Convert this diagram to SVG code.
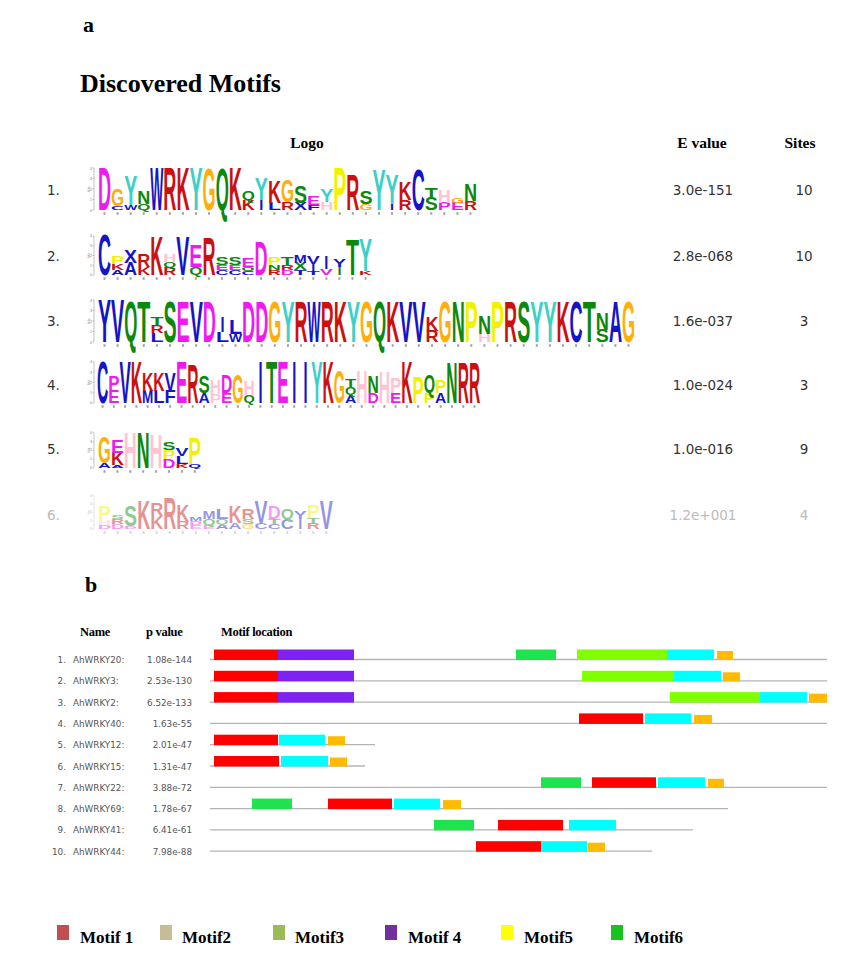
<svg xmlns="http://www.w3.org/2000/svg" xmlns:xlink="http://www.w3.org/1999/xlink" width="851" height="971" viewBox="0 0 851 971">
<style>
.L text{font-family:"Liberation Sans",Arial,sans-serif;font-weight:bold;font-size:14.53px}
.L .i{text-anchor:middle}
.B{fill:#1414c8}.G{fill:#0c880c}.M{fill:#f01af0}.R{fill:#cc1010}.O{fill:#ffaf0a}.Y{fill:#f2f200}.C{fill:#3cd0c8}.P{fill:#ffc4d4}
.hd{font-family:"Liberation Serif","Times New Roman",serif;font-weight:bold;fill:#000}
.ev{font-family:"DejaVu Sans",Verdana,sans-serif;font-size:13.5px;fill:#333}
.tk{font-family:"Liberation Sans",Arial,sans-serif;font-size:3.5px;fill:#777}
.ticks{stroke:#a0a0a0;stroke-width:2.5;fill:none}
.nm{font-family:"DejaVu Sans",Verdana,sans-serif;font-size:8.8px;fill:#555}
.bh{font-family:"Liberation Serif","Times New Roman",serif;font-weight:bold;font-size:12.5px;letter-spacing:-0.3px;fill:#000}
.ln{stroke:#b4b4b4;stroke-width:1.3}
.m1{fill:#ff0000}.m4{fill:#7d22f0}.m6{fill:#1ee34e}.m3{fill:#80ff00}.mc{fill:#00ffff}.mo{fill:#ffbb00}
.lg{font-family:"Liberation Serif","Times New Roman",serif;font-weight:bold;font-size:17px;fill:#000}
</style>
<defs>
<g id="ax">
<path d="M0,-42V0M-1.5,-42H0M-1.5,-31.5H0M-1.5,-21H0M-1.5,-10.5H0M-1.5,0H0" stroke="#999" stroke-width="0.6" fill="none"/>
<text class="tk" x="-2" y="-40.5" text-anchor="end">4</text>
<text class="tk" x="-2" y="-30" text-anchor="end">3</text>
<text class="tk" x="-2" y="-19.5" text-anchor="end">2</text>
<text class="tk" x="-2" y="-9" text-anchor="end">1</text>
<text class="tk" x="-2" y="1.5" text-anchor="end">0</text>
<text class="tk" transform="translate(-4.2,-21) rotate(-90)" text-anchor="middle">bits</text>
</g>
</defs>
<rect width="851" height="971" fill="#fff"/>

<g id="panel-a">
<text class="hd" x="83" y="32" font-size="22">a</text>
<text class="hd" x="80" y="92" font-size="26">Discovered Motifs</text>
<text class="hd" x="307" y="148" font-size="15.5" text-anchor="middle">Logo</text>
<text class="hd" x="702" y="148" font-size="15.5" text-anchor="middle">E value</text>
<text class="hd" x="800" y="148" font-size="15.5" text-anchor="middle">Sites</text>

<g id="labels-a" class="ev">
<text x="47" y="195">1.</text><text x="703" y="195" text-anchor="middle">3.0e-151</text><text x="804" y="195" text-anchor="middle">10</text>
<text x="47" y="261">2.</text><text x="703" y="261" text-anchor="middle">2.8e-068</text><text x="804" y="261" text-anchor="middle">10</text>
<text x="47" y="326">3.</text><text x="703" y="326" text-anchor="middle">1.6e-037</text><text x="804" y="326" text-anchor="middle">3</text>
<text x="47" y="390">4.</text><text x="703" y="390" text-anchor="middle">1.0e-024</text><text x="804" y="390" text-anchor="middle">3</text>
<text x="47" y="454">5.</text><text x="703" y="454" text-anchor="middle">1.0e-016</text><text x="804" y="454" text-anchor="middle">9</text>
<g><text x="47" y="520" style="fill:#bbb">6.</text><text x="703" y="520" text-anchor="middle" style="fill:#bbb">1.2e+001</text><text x="804" y="520" text-anchor="middle" style="fill:#bbb">4</text></g>
</g>

<g id="axes">
<use xlink:href="#ax" href="#ax" transform="translate(94,210)"/>
<use xlink:href="#ax" href="#ax" transform="translate(94,275) scale(1,0.93)"/>
<use xlink:href="#ax" href="#ax" transform="translate(94,342)"/>
<use xlink:href="#ax" href="#ax" transform="translate(94,403) scale(1,0.98)"/>
<use xlink:href="#ax" href="#ax" transform="translate(94,468) scale(1,0.85)"/>
<use xlink:href="#ax" href="#ax" transform="translate(94,529) scale(1,0.8)" opacity="0.45"/>
<path class="ticks" d="M103.5,213.5H477" stroke-dasharray="2 11.07"/>
<path class="ticks" d="M103.5,278.5H372" stroke-dasharray="2 11.05"/>
<path class="ticks" d="M103.5,345.5H635" stroke-dasharray="2 11.1"/>
<path class="ticks" d="M101.6,406.5H480" stroke-dasharray="2 9.27"/>
<path class="ticks" d="M103.5,471.5H201" stroke-dasharray="2 10.9"/>
<path class="ticks" d="M103.5,532.5H333" stroke-dasharray="2 11.05" opacity="0.45"/>
</g>

<g id="logo1" class="L" transform="translate(98,210)">
<text transform="translate(0,0)scale(1,4.2)" textLength="13.07" lengthAdjust="spacingAndGlyphs" class="M">D</text>
<text transform="translate(13.07,0)scale(1,0.4)" textLength="13.07" lengthAdjust="spacingAndGlyphs" class="B">C</text>
<text transform="translate(13.07,-4)scale(1,1.7)" textLength="13.07" lengthAdjust="spacingAndGlyphs" class="O">G</text>
<text transform="translate(26.14,0)scale(1,0.5)" textLength="13.07" lengthAdjust="spacingAndGlyphs" class="B">W</text>
<text transform="translate(26.14,-5)scale(1,2.9)" textLength="13.07" lengthAdjust="spacingAndGlyphs" class="C">Y</text>
<text transform="translate(39.21,0)scale(1,0.6)" textLength="13.07" lengthAdjust="spacingAndGlyphs" class="G">Q</text>
<text transform="translate(39.21,-6)scale(1,1.3)" textLength="13.07" lengthAdjust="spacingAndGlyphs" class="G">N</text>
<text transform="translate(52.28,0)scale(1,4.2)" textLength="13.07" lengthAdjust="spacingAndGlyphs" class="B">W</text>
<text transform="translate(65.35,0)scale(1,4.2)" textLength="13.07" lengthAdjust="spacingAndGlyphs" class="R">R</text>
<text transform="translate(78.42,0)scale(1,4.2)" textLength="13.07" lengthAdjust="spacingAndGlyphs" class="R">K</text>
<text transform="translate(91.49,0)scale(1,4.2)" textLength="13.07" lengthAdjust="spacingAndGlyphs" class="C">Y</text>
<text transform="translate(104.56,0)scale(1,4.1)" textLength="13.07" lengthAdjust="spacingAndGlyphs" class="O">G</text>
<text transform="translate(117.63,0)scale(1,4.1)" textLength="13.07" lengthAdjust="spacingAndGlyphs" class="G">Q</text>
<text transform="translate(130.70,0)scale(1,4.2)" textLength="13.07" lengthAdjust="spacingAndGlyphs" class="R">K</text>
<text transform="translate(143.77,0)scale(1,1.0)" textLength="13.07" lengthAdjust="spacingAndGlyphs" class="R">K</text>
<text transform="translate(143.77,-10)scale(1,0.9)" textLength="13.07" lengthAdjust="spacingAndGlyphs" class="G">Q</text>
<text transform="translate(163.38,0)scale(1,1.0)" class="B i">I</text>
<text transform="translate(156.84,-10)scale(1,2.2)" textLength="13.07" lengthAdjust="spacingAndGlyphs" class="C">Y</text>
<text transform="translate(169.91,0)scale(1,0.7)" textLength="13.07" lengthAdjust="spacingAndGlyphs" class="B">L</text>
<text transform="translate(169.91,-7)scale(1,2.1)" textLength="13.07" lengthAdjust="spacingAndGlyphs" class="R">K</text>
<text transform="translate(182.98,0)scale(1,0.8)" textLength="13.07" lengthAdjust="spacingAndGlyphs" class="R">R</text>
<text transform="translate(182.98,-8)scale(1,2.2)" textLength="13.07" lengthAdjust="spacingAndGlyphs" class="O">G</text>
<text transform="translate(196.05,0)scale(1,0.7)" textLength="13.07" lengthAdjust="spacingAndGlyphs" class="B">X</text>
<text transform="translate(196.05,-7)scale(1,1.7)" textLength="13.07" lengthAdjust="spacingAndGlyphs" class="G">S</text>
<text transform="translate(209.12,0)scale(1,0.5)" textLength="13.07" lengthAdjust="spacingAndGlyphs" class="B">F</text>
<text transform="translate(209.12,-5)scale(1,0.9)" textLength="13.07" lengthAdjust="spacingAndGlyphs" class="M">E</text>
<text transform="translate(222.19,0)scale(1,0.8)" textLength="13.07" lengthAdjust="spacingAndGlyphs" class="P">H</text>
<text transform="translate(222.19,-8)scale(1,1.2)" textLength="13.07" lengthAdjust="spacingAndGlyphs" class="C">Y</text>
<text transform="translate(235.26,0)scale(1,4.2)" textLength="13.07" lengthAdjust="spacingAndGlyphs" class="Y">P</text>
<text transform="translate(248.33,0)scale(1,3.4)" textLength="13.07" lengthAdjust="spacingAndGlyphs" class="R">R</text>
<text transform="translate(261.40,0)scale(1,0.6)" textLength="13.07" lengthAdjust="spacingAndGlyphs" class="O">G</text>
<text transform="translate(261.40,-6)scale(1,1.3)" textLength="13.07" lengthAdjust="spacingAndGlyphs" class="G">S</text>
<text transform="translate(274.47,0)scale(1,4.0)" textLength="13.07" lengthAdjust="spacingAndGlyphs" class="C">Y</text>
<text transform="translate(294.08,0)scale(1,0.6)" class="B i">I</text>
<text transform="translate(287.54,-6)scale(1,2.9)" textLength="13.07" lengthAdjust="spacingAndGlyphs" class="C">Y</text>
<text transform="translate(300.61,0)scale(1,1.0)" textLength="13.07" lengthAdjust="spacingAndGlyphs" class="R">R</text>
<text transform="translate(300.61,-10)scale(1,1.8)" textLength="13.07" lengthAdjust="spacingAndGlyphs" class="R">K</text>
<text transform="translate(313.68,0)scale(1,4.0)" textLength="13.07" lengthAdjust="spacingAndGlyphs" class="B">C</text>
<text transform="translate(326.75,0)scale(1,1.2)" textLength="13.07" lengthAdjust="spacingAndGlyphs" class="G">S</text>
<text transform="translate(326.75,-12)scale(1,1.0)" textLength="13.07" lengthAdjust="spacingAndGlyphs" class="G">T</text>
<text transform="translate(339.82,0)scale(1,0.7)" textLength="13.07" lengthAdjust="spacingAndGlyphs" class="M">P</text>
<text transform="translate(339.82,-7)scale(1,1.3)" textLength="13.07" lengthAdjust="spacingAndGlyphs" class="P">H</text>
<text transform="translate(352.89,0)scale(1,0.7)" textLength="13.07" lengthAdjust="spacingAndGlyphs" class="M">E</text>
<text transform="translate(352.89,-7)scale(1,0.5)" textLength="13.07" lengthAdjust="spacingAndGlyphs" class="O">G</text>
<text transform="translate(365.96,0)scale(1,0.9)" textLength="13.07" lengthAdjust="spacingAndGlyphs" class="R">R</text>
<text transform="translate(365.96,-9)scale(1,1.7)" textLength="13.07" lengthAdjust="spacingAndGlyphs" class="G">N</text>
</g>

<g id="logo2" class="L" transform="translate(98,275)">
<text transform="translate(0,0)scale(1,3.9)" textLength="13.05" lengthAdjust="spacingAndGlyphs" class="B">C</text>
<text transform="translate(13.05,0)scale(1,0.5)" textLength="13.05" lengthAdjust="spacingAndGlyphs" class="B">A</text>
<text transform="translate(13.05,-5)scale(1,0.6)" textLength="13.05" lengthAdjust="spacingAndGlyphs" class="R">K</text>
<text transform="translate(13.05,-11)scale(1,0.7)" textLength="13.05" lengthAdjust="spacingAndGlyphs" class="Y">P</text>
<text transform="translate(26.1,0)scale(1,1.2)" textLength="13.05" lengthAdjust="spacingAndGlyphs" class="B">A</text>
<text transform="translate(26.1,-12)scale(1,1.3)" textLength="13.05" lengthAdjust="spacingAndGlyphs" class="B">X</text>
<text transform="translate(39.15,0)scale(1,0.8)" textLength="13.05" lengthAdjust="spacingAndGlyphs" class="R">K</text>
<text transform="translate(39.15,-8)scale(1,1.3)" textLength="13.05" lengthAdjust="spacingAndGlyphs" class="R">R</text>
<text transform="translate(52.2,0)scale(1,3.8)" textLength="13.05" lengthAdjust="spacingAndGlyphs" class="R">K</text>
<text transform="translate(65.25,0)scale(1,0.8)" textLength="13.05" lengthAdjust="spacingAndGlyphs" class="R">R</text>
<text transform="translate(65.25,-8)scale(1,0.5)" textLength="13.05" lengthAdjust="spacingAndGlyphs" class="G">Q</text>
<text transform="translate(65.25,-13)scale(1,0.8)" textLength="13.05" lengthAdjust="spacingAndGlyphs" class="P">H</text>
<text transform="translate(78.3,0)scale(1,3.8)" textLength="13.05" lengthAdjust="spacingAndGlyphs" class="B">V</text>
<text transform="translate(91.35,0)scale(1,0.8)" textLength="13.05" lengthAdjust="spacingAndGlyphs" class="G">Q</text>
<text transform="translate(91.35,-8)scale(1,2.2)" textLength="13.05" lengthAdjust="spacingAndGlyphs" class="M">E</text>
<text transform="translate(104.4,0)scale(1,3.7)" textLength="13.05" lengthAdjust="spacingAndGlyphs" class="R">R</text>
<text transform="translate(117.45,0)scale(1,0.5)" textLength="13.05" lengthAdjust="spacingAndGlyphs" class="B">C</text>
<text transform="translate(117.45,-5)scale(1,0.5)" textLength="13.05" lengthAdjust="spacingAndGlyphs" class="M">E</text>
<text transform="translate(117.45,-10)scale(1,0.7)" textLength="13.05" lengthAdjust="spacingAndGlyphs" class="G">S</text>
<text transform="translate(130.5,0)scale(1,0.5)" textLength="13.05" lengthAdjust="spacingAndGlyphs" class="B">C</text>
<text transform="translate(130.5,-5)scale(1,0.5)" textLength="13.05" lengthAdjust="spacingAndGlyphs" class="M">E</text>
<text transform="translate(130.5,-10)scale(1,0.7)" textLength="13.05" lengthAdjust="spacingAndGlyphs" class="G">S</text>
<text transform="translate(143.55,0)scale(1,0.4)" textLength="13.05" lengthAdjust="spacingAndGlyphs" class="B">C</text>
<text transform="translate(143.55,-4)scale(1,0.4)" textLength="13.05" lengthAdjust="spacingAndGlyphs" class="G">Q</text>
<text transform="translate(143.55,-8)scale(1,0.9)" textLength="13.05" lengthAdjust="spacingAndGlyphs" class="M">E</text>
<text transform="translate(156.6,0)scale(1,3.3)" textLength="13.05" lengthAdjust="spacingAndGlyphs" class="M">D</text>
<text transform="translate(169.65,0)scale(1,0.5)" textLength="13.05" lengthAdjust="spacingAndGlyphs" class="R">R</text>
<text transform="translate(169.65,-5)scale(1,0.5)" textLength="13.05" lengthAdjust="spacingAndGlyphs" class="G">N</text>
<text transform="translate(169.65,-10)scale(1,0.8)" textLength="13.05" lengthAdjust="spacingAndGlyphs" class="Y">P</text>
<text transform="translate(182.7,0)scale(1,0.5)" textLength="13.05" lengthAdjust="spacingAndGlyphs" class="M">D</text>
<text transform="translate(182.7,-5)scale(1,0.5)" textLength="13.05" lengthAdjust="spacingAndGlyphs" class="R">R</text>
<text transform="translate(182.7,-10)scale(1,0.7)" textLength="13.05" lengthAdjust="spacingAndGlyphs" class="G">T</text>
<text transform="translate(195.75,0)scale(1,0.5)" textLength="13.05" lengthAdjust="spacingAndGlyphs" class="B">T</text>
<text transform="translate(195.75,-5)scale(1,0.7)" textLength="13.05" lengthAdjust="spacingAndGlyphs" class="G">X</text>
<text transform="translate(195.75,-12)scale(1,0.7)" textLength="13.05" lengthAdjust="spacingAndGlyphs" class="B">M</text>
<text transform="translate(208.8,0)scale(1,0.4)" textLength="13.05" lengthAdjust="spacingAndGlyphs" class="B">T</text>
<text transform="translate(215.33,-4)scale(1,0.7)" class="B i">I</text>
<text transform="translate(208.8,-11)scale(1,0.8)" textLength="13.05" lengthAdjust="spacingAndGlyphs" class="B">V</text>
<text transform="translate(221.85,0)scale(1,0.6)" textLength="13.05" lengthAdjust="spacingAndGlyphs" class="M">V</text>
<text transform="translate(228.38,-6)scale(1,1.3)" class="B i">I</text>
<text transform="translate(241.43,0)scale(1,0.8)" class="G i">I</text>
<text transform="translate(234.9,-8)scale(1,0.8)" textLength="13.05" lengthAdjust="spacingAndGlyphs" class="B">Y</text>
<text transform="translate(247.95,0)scale(1,3.5)" textLength="13.05" lengthAdjust="spacingAndGlyphs" class="G">T</text>
<text transform="translate(261.0,0)scale(1,0.4)" textLength="13.05" lengthAdjust="spacingAndGlyphs" class="R">K</text>
<text transform="translate(261.0,-4)scale(1,3.2)" textLength="13.05" lengthAdjust="spacingAndGlyphs" class="C">Y</text>
</g>

<g id="logo3" class="L" transform="translate(98,342)">
<text transform="translate(0,0)scale(1,4.2)" textLength="13.1" lengthAdjust="spacingAndGlyphs" class="B">Y</text>
<text transform="translate(13.1,0)scale(1,4.2)" textLength="13.1" lengthAdjust="spacingAndGlyphs" class="B">V</text>
<text transform="translate(26.2,0)scale(1,4.0)" textLength="13.1" lengthAdjust="spacingAndGlyphs" class="G">Q</text>
<text transform="translate(39.3,0)scale(1,4.0)" textLength="13.1" lengthAdjust="spacingAndGlyphs" class="G">T</text>
<text transform="translate(52.4,0)scale(1,0.9)" textLength="13.1" lengthAdjust="spacingAndGlyphs" class="B">L</text>
<text transform="translate(52.4,-9)scale(1,0.8)" textLength="13.1" lengthAdjust="spacingAndGlyphs" class="R">R</text>
<text transform="translate(52.4,-17)scale(1,0.7)" textLength="13.1" lengthAdjust="spacingAndGlyphs" class="G">T</text>
<text transform="translate(65.5,0)scale(1,4.0)" textLength="13.1" lengthAdjust="spacingAndGlyphs" class="G">S</text>
<text transform="translate(78.6,0)scale(1,4.0)" textLength="13.1" lengthAdjust="spacingAndGlyphs" class="M">E</text>
<text transform="translate(91.7,0)scale(1,4.0)" textLength="13.1" lengthAdjust="spacingAndGlyphs" class="B">V</text>
<text transform="translate(104.8,0)scale(1,4.0)" textLength="13.1" lengthAdjust="spacingAndGlyphs" class="M">D</text>
<text transform="translate(117.9,0)scale(1,1.0)" textLength="13.1" lengthAdjust="spacingAndGlyphs" class="B">L</text>
<text transform="translate(124.45,-10)scale(1,1.5)" class="B i">I</text>
<text transform="translate(131.0,0)scale(1,0.8)" textLength="13.1" lengthAdjust="spacingAndGlyphs" class="B">W</text>
<text transform="translate(131.0,-8)scale(1,1.4)" textLength="13.1" lengthAdjust="spacingAndGlyphs" class="B">L</text>
<text transform="translate(144.1,0)scale(1,4.0)" textLength="13.1" lengthAdjust="spacingAndGlyphs" class="M">D</text>
<text transform="translate(157.2,0)scale(1,4.0)" textLength="13.1" lengthAdjust="spacingAndGlyphs" class="M">D</text>
<text transform="translate(170.3,0)scale(1,4.0)" textLength="13.1" lengthAdjust="spacingAndGlyphs" class="O">G</text>
<text transform="translate(183.4,0)scale(1,4.0)" textLength="13.1" lengthAdjust="spacingAndGlyphs" class="C">Y</text>
<text transform="translate(196.5,0)scale(1,4.0)" textLength="13.1" lengthAdjust="spacingAndGlyphs" class="R">R</text>
<text transform="translate(209.6,0)scale(1,4.0)" textLength="13.1" lengthAdjust="spacingAndGlyphs" class="B">W</text>
<text transform="translate(222.7,0)scale(1,4.0)" textLength="13.1" lengthAdjust="spacingAndGlyphs" class="R">R</text>
<text transform="translate(235.8,0)scale(1,4.0)" textLength="13.1" lengthAdjust="spacingAndGlyphs" class="R">K</text>
<text transform="translate(248.9,0)scale(1,4.0)" textLength="13.1" lengthAdjust="spacingAndGlyphs" class="C">Y</text>
<text transform="translate(262.0,0)scale(1,4.0)" textLength="13.1" lengthAdjust="spacingAndGlyphs" class="O">G</text>
<text transform="translate(275.1,0)scale(1,4.0)" textLength="13.1" lengthAdjust="spacingAndGlyphs" class="G">Q</text>
<text transform="translate(288.2,0)scale(1,4.0)" textLength="13.1" lengthAdjust="spacingAndGlyphs" class="R">K</text>
<text transform="translate(301.3,0)scale(1,4.0)" textLength="13.1" lengthAdjust="spacingAndGlyphs" class="B">V</text>
<text transform="translate(314.4,0)scale(1,4.0)" textLength="13.1" lengthAdjust="spacingAndGlyphs" class="B">V</text>
<text transform="translate(327.5,0)scale(1,1.1)" textLength="13.1" lengthAdjust="spacingAndGlyphs" class="R">R</text>
<text transform="translate(327.5,-11)scale(1,1.4)" textLength="13.1" lengthAdjust="spacingAndGlyphs" class="R">K</text>
<text transform="translate(340.6,0)scale(1,4.0)" textLength="13.1" lengthAdjust="spacingAndGlyphs" class="O">G</text>
<text transform="translate(353.7,0)scale(1,4.0)" textLength="13.1" lengthAdjust="spacingAndGlyphs" class="G">N</text>
<text transform="translate(366.8,0)scale(1,4.0)" textLength="13.1" lengthAdjust="spacingAndGlyphs" class="Y">P</text>
<text transform="translate(379.9,0)scale(1,0.8)" textLength="13.1" lengthAdjust="spacingAndGlyphs" class="P">H</text>
<text transform="translate(379.9,-8)scale(1,1.8)" textLength="13.1" lengthAdjust="spacingAndGlyphs" class="G">N</text>
<text transform="translate(393.0,0)scale(1,4.0)" textLength="13.1" lengthAdjust="spacingAndGlyphs" class="Y">P</text>
<text transform="translate(406.1,0)scale(1,4.0)" textLength="13.1" lengthAdjust="spacingAndGlyphs" class="R">R</text>
<text transform="translate(419.2,0)scale(1,4.0)" textLength="13.1" lengthAdjust="spacingAndGlyphs" class="G">S</text>
<text transform="translate(432.3,0)scale(1,4.0)" textLength="13.1" lengthAdjust="spacingAndGlyphs" class="C">Y</text>
<text transform="translate(445.4,0)scale(1,4.0)" textLength="13.1" lengthAdjust="spacingAndGlyphs" class="C">Y</text>
<text transform="translate(458.5,0)scale(1,4.0)" textLength="13.1" lengthAdjust="spacingAndGlyphs" class="R">K</text>
<text transform="translate(471.6,0)scale(1,4.0)" textLength="13.1" lengthAdjust="spacingAndGlyphs" class="B">C</text>
<text transform="translate(484.7,0)scale(1,4.0)" textLength="13.1" lengthAdjust="spacingAndGlyphs" class="G">T</text>
<text transform="translate(497.8,0)scale(1,1.2)" textLength="13.1" lengthAdjust="spacingAndGlyphs" class="G">S</text>
<text transform="translate(497.8,-12)scale(1,1.6)" textLength="13.1" lengthAdjust="spacingAndGlyphs" class="G">N</text>
<text transform="translate(510.9,0)scale(1,4.0)" textLength="13.1" lengthAdjust="spacingAndGlyphs" class="B">A</text>
<text transform="translate(524.0,0)scale(1,4.0)" textLength="13.1" lengthAdjust="spacingAndGlyphs" class="O">G</text>
</g>

<g id="logo4" class="L" transform="translate(97,403)">
<text transform="translate(0,0)scale(1,4.1)" textLength="11.27" lengthAdjust="spacingAndGlyphs" class="B">C</text>
<text transform="translate(11.27,0)scale(1,1.3)" textLength="11.27" lengthAdjust="spacingAndGlyphs" class="M">E</text>
<text transform="translate(11.27,-13)scale(1,1.4)" textLength="11.27" lengthAdjust="spacingAndGlyphs" class="M">P</text>
<text transform="translate(22.54,0)scale(1,4.1)" textLength="11.27" lengthAdjust="spacingAndGlyphs" class="B">V</text>
<text transform="translate(33.81,0)scale(1,4.1)" textLength="11.27" lengthAdjust="spacingAndGlyphs" class="R">K</text>
<text transform="translate(45.08,0)scale(1,1.2)" textLength="11.27" lengthAdjust="spacingAndGlyphs" class="B">M</text>
<text transform="translate(45.08,-12)scale(1,1.8)" textLength="11.27" lengthAdjust="spacingAndGlyphs" class="R">K</text>
<text transform="translate(56.35,0)scale(1,1.2)" textLength="11.27" lengthAdjust="spacingAndGlyphs" class="B">L</text>
<text transform="translate(56.35,-12)scale(1,1.8)" textLength="11.27" lengthAdjust="spacingAndGlyphs" class="R">K</text>
<text transform="translate(67.62,0)scale(1,1.2)" textLength="11.27" lengthAdjust="spacingAndGlyphs" class="B">F</text>
<text transform="translate(67.62,-12)scale(1,1.8)" textLength="11.27" lengthAdjust="spacingAndGlyphs" class="B">V</text>
<text transform="translate(78.89,0)scale(1,4.1)" textLength="11.27" lengthAdjust="spacingAndGlyphs" class="M">E</text>
<text transform="translate(90.16,0)scale(1,3.8)" textLength="11.27" lengthAdjust="spacingAndGlyphs" class="R">R</text>
<text transform="translate(101.43,0)scale(1,1.0)" textLength="11.27" lengthAdjust="spacingAndGlyphs" class="B">A</text>
<text transform="translate(101.43,-10)scale(1,1.6)" textLength="11.27" lengthAdjust="spacingAndGlyphs" class="G">S</text>
<text transform="translate(112.70,0)scale(1,0.9)" textLength="11.27" lengthAdjust="spacingAndGlyphs" class="P">P</text>
<text transform="translate(112.70,-9)scale(1,1.4)" textLength="11.27" lengthAdjust="spacingAndGlyphs" class="P">H</text>
<text transform="translate(123.97,0)scale(1,1.0)" textLength="11.27" lengthAdjust="spacingAndGlyphs" class="M">E</text>
<text transform="translate(123.97,-10)scale(1,1.8)" textLength="11.27" lengthAdjust="spacingAndGlyphs" class="M">D</text>
<text transform="translate(135.24,0)scale(1,2.8)" textLength="11.27" lengthAdjust="spacingAndGlyphs" class="O">G</text>
<text transform="translate(146.51,0)scale(1,0.8)" textLength="11.27" lengthAdjust="spacingAndGlyphs" class="G">Q</text>
<text transform="translate(146.51,-8)scale(1,1.4)" textLength="11.27" lengthAdjust="spacingAndGlyphs" class="P">H</text>
<text transform="translate(163.42,0)scale(1,4.1)" class="B i">I</text>
<text transform="translate(169.05,0)scale(1,4.1)" textLength="11.27" lengthAdjust="spacingAndGlyphs" class="G">T</text>
<text transform="translate(180.32,0)scale(1,4.1)" textLength="11.27" lengthAdjust="spacingAndGlyphs" class="M">E</text>
<text transform="translate(197.23,0)scale(1,4.1)" class="B i">I</text>
<text transform="translate(208.50,0)scale(1,4.1)" class="B i">I</text>
<text transform="translate(214.13,0)scale(1,4.1)" textLength="11.27" lengthAdjust="spacingAndGlyphs" class="C">Y</text>
<text transform="translate(225.40,0)scale(1,4.1)" textLength="11.27" lengthAdjust="spacingAndGlyphs" class="R">K</text>
<text transform="translate(236.67,0)scale(1,3.2)" textLength="11.27" lengthAdjust="spacingAndGlyphs" class="O">G</text>
<text transform="translate(247.94,0)scale(1,0.8)" textLength="11.27" lengthAdjust="spacingAndGlyphs" class="B">A</text>
<text transform="translate(247.94,-8)scale(1,0.8)" textLength="11.27" lengthAdjust="spacingAndGlyphs" class="G">Q</text>
<text transform="translate(247.94,-16)scale(1,0.8)" textLength="11.27" lengthAdjust="spacingAndGlyphs" class="G">T</text>
<text transform="translate(259.21,0)scale(1,3.2)" textLength="11.27" lengthAdjust="spacingAndGlyphs" class="P">H</text>
<text transform="translate(270.48,0)scale(1,1.0)" textLength="11.27" lengthAdjust="spacingAndGlyphs" class="M">D</text>
<text transform="translate(270.48,-10)scale(1,1.7)" textLength="11.27" lengthAdjust="spacingAndGlyphs" class="G">N</text>
<text transform="translate(281.75,0)scale(1,3.0)" textLength="11.27" lengthAdjust="spacingAndGlyphs" class="P">H</text>
<text transform="translate(293.02,0)scale(1,1.0)" textLength="11.27" lengthAdjust="spacingAndGlyphs" class="M">E</text>
<text transform="translate(293.02,-10)scale(1,1.5)" textLength="11.27" lengthAdjust="spacingAndGlyphs" class="P">P</text>
<text transform="translate(304.29,0)scale(1,4.1)" textLength="11.27" lengthAdjust="spacingAndGlyphs" class="R">K</text>
<text transform="translate(315.56,0)scale(1,2.5)" textLength="11.27" lengthAdjust="spacingAndGlyphs" class="Y">P</text>
<text transform="translate(326.83,0)scale(1,1.0)" textLength="11.27" lengthAdjust="spacingAndGlyphs" class="Y">P</text>
<text transform="translate(326.83,-10)scale(1,1.8)" textLength="11.27" lengthAdjust="spacingAndGlyphs" class="G">Q</text>
<text transform="translate(338.10,0)scale(1,1.0)" textLength="11.27" lengthAdjust="spacingAndGlyphs" class="B">A</text>
<text transform="translate(338.10,-10)scale(1,1.2)" textLength="11.27" lengthAdjust="spacingAndGlyphs" class="Y">P</text>
<text transform="translate(349.37,0)scale(1,4.0)" textLength="11.27" lengthAdjust="spacingAndGlyphs" class="G">N</text>
<text transform="translate(360.64,0)scale(1,4.0)" textLength="11.27" lengthAdjust="spacingAndGlyphs" class="R">R</text>
<text transform="translate(371.91,0)scale(1,4.0)" textLength="11.27" lengthAdjust="spacingAndGlyphs" class="R">R</text>
</g>

<g id="logo5" class="L" transform="translate(98,468)">
<text transform="translate(0,0)scale(1,0.5)" textLength="12.9" lengthAdjust="spacingAndGlyphs" class="B">A</text>
<text transform="translate(0,-5)scale(1,2.6)" textLength="12.9" lengthAdjust="spacingAndGlyphs" class="O">G</text>
<text transform="translate(12.9,0)scale(1,0.3)" textLength="12.9" lengthAdjust="spacingAndGlyphs" class="B">A</text>
<text transform="translate(12.9,-3)scale(1,1.2)" textLength="12.9" lengthAdjust="spacingAndGlyphs" class="R">K</text>
<text transform="translate(12.9,-15)scale(1,1.3)" textLength="12.9" lengthAdjust="spacingAndGlyphs" class="M">E</text>
<text transform="translate(25.8,0)scale(1,3.5)" textLength="12.9" lengthAdjust="spacingAndGlyphs" class="P">H</text>
<text transform="translate(38.7,0)scale(1,3.5)" textLength="12.9" lengthAdjust="spacingAndGlyphs" class="G">N</text>
<text transform="translate(51.6,0)scale(1,3.3)" textLength="12.9" lengthAdjust="spacingAndGlyphs" class="P">H</text>
<text transform="translate(64.5,0)scale(1,0.9)" textLength="12.9" lengthAdjust="spacingAndGlyphs" class="M">D</text>
<text transform="translate(64.5,-9)scale(1,0.9)" textLength="12.9" lengthAdjust="spacingAndGlyphs" class="Y">P</text>
<text transform="translate(64.5,-18)scale(1,0.7)" textLength="12.9" lengthAdjust="spacingAndGlyphs" class="G">S</text>
<text transform="translate(77.4,0)scale(1,0.4)" textLength="12.9" lengthAdjust="spacingAndGlyphs" class="R">K</text>
<text transform="translate(77.4,-4)scale(1,0.8)" textLength="12.9" lengthAdjust="spacingAndGlyphs" class="B">L</text>
<text transform="translate(77.4,-12)scale(1,0.7)" textLength="12.9" lengthAdjust="spacingAndGlyphs" class="B">V</text>
<text transform="translate(90.3,0)scale(1,0.4)" textLength="12.9" lengthAdjust="spacingAndGlyphs" class="B">Q</text>
<text transform="translate(90.3,-4)scale(1,2.5)" textLength="12.9" lengthAdjust="spacingAndGlyphs" class="Y">P</text>
</g>

<g id="logo6" class="L" transform="translate(98,529)" opacity="0.45">
<text transform="translate(0,0)scale(1,0.4)" textLength="13.05" lengthAdjust="spacingAndGlyphs" class="M">D</text>
<text transform="translate(0,-4)scale(1,0.5)" textLength="13.05" lengthAdjust="spacingAndGlyphs" class="P">H</text>
<text transform="translate(0,-9)scale(1,1.4)" textLength="13.05" lengthAdjust="spacingAndGlyphs" class="Y">P</text>
<text transform="translate(13.05,0)scale(1,0.5)" textLength="13.05" lengthAdjust="spacingAndGlyphs" class="M">D</text>
<text transform="translate(13.05,-5)scale(1,0.5)" textLength="13.05" lengthAdjust="spacingAndGlyphs" class="R">R</text>
<text transform="translate(13.05,-10)scale(1,0.4)" textLength="13.05" lengthAdjust="spacingAndGlyphs" class="G">S</text>
<text transform="translate(26.1,0)scale(1,0.3)" textLength="13.05" lengthAdjust="spacingAndGlyphs" class="M">D</text>
<text transform="translate(26.1,-3)scale(1,2.0)" textLength="13.05" lengthAdjust="spacingAndGlyphs" class="G">S</text>
<text transform="translate(39.15,0)scale(1,2.8)" textLength="13.05" lengthAdjust="spacingAndGlyphs" class="R">K</text>
<text transform="translate(52.2,0)scale(1,1.3)" textLength="13.05" lengthAdjust="spacingAndGlyphs" class="R">K</text>
<text transform="translate(52.2,-13)scale(1,1.3)" textLength="13.05" lengthAdjust="spacingAndGlyphs" class="R">R</text>
<text transform="translate(65.25,0)scale(1,3.0)" textLength="13.05" lengthAdjust="spacingAndGlyphs" class="R">R</text>
<text transform="translate(78.3,0)scale(1,0.7)" textLength="13.05" lengthAdjust="spacingAndGlyphs" class="R">R</text>
<text transform="translate(78.3,-7)scale(1,1.6)" textLength="13.05" lengthAdjust="spacingAndGlyphs" class="R">K</text>
<text transform="translate(91.35,0)scale(1,0.4)" textLength="13.05" lengthAdjust="spacingAndGlyphs" class="M">E</text>
<text transform="translate(91.35,-4)scale(1,0.4)" textLength="13.05" lengthAdjust="spacingAndGlyphs" class="M">D</text>
<text transform="translate(91.35,-8)scale(1,0.4)" textLength="13.05" lengthAdjust="spacingAndGlyphs" class="B">M</text>
<text transform="translate(104.4,0)scale(1,0.4)" textLength="13.05" lengthAdjust="spacingAndGlyphs" class="M">E</text>
<text transform="translate(104.4,-4)scale(1,0.6)" textLength="13.05" lengthAdjust="spacingAndGlyphs" class="G">Q</text>
<text transform="translate(104.4,-10)scale(1,0.8)" textLength="13.05" lengthAdjust="spacingAndGlyphs" class="B">M</text>
<text transform="translate(117.45,0)scale(1,0.5)" textLength="13.05" lengthAdjust="spacingAndGlyphs" class="B">A</text>
<text transform="translate(117.45,-5)scale(1,0.5)" textLength="13.05" lengthAdjust="spacingAndGlyphs" class="G">Q</text>
<text transform="translate(117.45,-10)scale(1,1.0)" textLength="13.05" lengthAdjust="spacingAndGlyphs" class="B">L</text>
<text transform="translate(130.5,0)scale(1,0.6)" textLength="13.05" lengthAdjust="spacingAndGlyphs" class="B">A</text>
<text transform="translate(130.5,-6)scale(1,1.7)" textLength="13.05" lengthAdjust="spacingAndGlyphs" class="R">K</text>
<text transform="translate(143.55,0)scale(1,0.5)" textLength="13.05" lengthAdjust="spacingAndGlyphs" class="O">G</text>
<text transform="translate(143.55,-5)scale(1,0.5)" textLength="13.05" lengthAdjust="spacingAndGlyphs" class="G">S</text>
<text transform="translate(143.55,-10)scale(1,1.0)" textLength="13.05" lengthAdjust="spacingAndGlyphs" class="R">R</text>
<text transform="translate(156.6,0)scale(1,0.6)" textLength="13.05" lengthAdjust="spacingAndGlyphs" class="B">C</text>
<text transform="translate(156.6,-6)scale(1,2.2)" textLength="13.05" lengthAdjust="spacingAndGlyphs" class="B">V</text>
<text transform="translate(169.65,0)scale(1,0.5)" textLength="13.05" lengthAdjust="spacingAndGlyphs" class="B">C</text>
<text transform="translate(169.65,-5)scale(1,0.5)" textLength="13.05" lengthAdjust="spacingAndGlyphs" class="G">T</text>
<text transform="translate(169.65,-10)scale(1,1.2)" textLength="13.05" lengthAdjust="spacingAndGlyphs" class="M">D</text>
<text transform="translate(182.7,0)scale(1,1.0)" textLength="13.05" lengthAdjust="spacingAndGlyphs" class="B">C</text>
<text transform="translate(182.7,-10)scale(1,1.0)" textLength="13.05" lengthAdjust="spacingAndGlyphs" class="G">Q</text>
<text transform="translate(202.28,0)scale(1,1.0)" class="B i">I</text>
<text transform="translate(195.75,-10)scale(1,0.8)" textLength="13.05" lengthAdjust="spacingAndGlyphs" class="B">Y</text>
<text transform="translate(208.8,0)scale(1,0.6)" textLength="13.05" lengthAdjust="spacingAndGlyphs" class="R">R</text>
<text transform="translate(208.8,-6)scale(1,0.5)" textLength="13.05" lengthAdjust="spacingAndGlyphs" class="G">T</text>
<text transform="translate(208.8,-11)scale(1,1.2)" textLength="13.05" lengthAdjust="spacingAndGlyphs" class="Y">P</text>
<text transform="translate(221.85,0)scale(1,2.8)" textLength="13.05" lengthAdjust="spacingAndGlyphs" class="B">V</text>
</g>
</g>

<g id="panel-b">
<text class="hd" x="85" y="592" font-size="22">b</text>
<text class="bh" x="80" y="636">Name</text>
<text class="bh" x="146" y="636">p value</text>
<text class="bh" x="221" y="636">Motif location</text>

<g id="seq-lines">
<line class="ln" x1="210" y1="659.5" x2="827" y2="659.5"/>
<line class="ln" x1="210" y1="680.8" x2="827" y2="680.8"/>
<line class="ln" x1="210" y1="702.1" x2="827" y2="702.1"/>
<line class="ln" x1="210" y1="723.4" x2="827" y2="723.4"/>
<line class="ln" x1="210" y1="744.7" x2="375" y2="744.7"/>
<line class="ln" x1="210" y1="766.0" x2="365" y2="766.0"/>
<line class="ln" x1="210" y1="787.3" x2="827" y2="787.3"/>
<line class="ln" x1="210" y1="808.6" x2="728" y2="808.6"/>
<line class="ln" x1="210" y1="829.9" x2="693" y2="829.9"/>
<line class="ln" x1="210" y1="851.2" x2="652" y2="851.2"/>
</g>

<g id="seq-labels" class="nm">
<text x="66" y="663" text-anchor="end">1.</text><text x="73" y="663">AhWRKY20:</text><text x="192" y="663" text-anchor="end">1.08e-144</text>
<text x="66" y="684.3" text-anchor="end">2.</text><text x="73" y="684.3">AhWRKY3:</text><text x="192" y="684.3" text-anchor="end">2.53e-130</text>
<text x="66" y="705.6" text-anchor="end">3.</text><text x="73" y="705.6">AhWRKY2:</text><text x="192" y="705.6" text-anchor="end">6.52e-133</text>
<text x="66" y="726.9" text-anchor="end">4.</text><text x="73" y="726.9">AhWRKY40:</text><text x="192" y="726.9" text-anchor="end">1.63e-55</text>
<text x="66" y="748.2" text-anchor="end">5.</text><text x="73" y="748.2">AhWRKY12:</text><text x="192" y="748.2" text-anchor="end">2.01e-47</text>
<text x="66" y="769.5" text-anchor="end">6.</text><text x="73" y="769.5">AhWRKY15:</text><text x="192" y="769.5" text-anchor="end">1.31e-47</text>
<text x="66" y="790.8" text-anchor="end">7.</text><text x="73" y="790.8">AhWRKY22:</text><text x="192" y="790.8" text-anchor="end">3.88e-72</text>
<text x="66" y="812.1" text-anchor="end">8.</text><text x="73" y="812.1">AhWRKY69:</text><text x="192" y="812.1" text-anchor="end">1.78e-67</text>
<text x="66" y="833.4" text-anchor="end">9.</text><text x="73" y="833.4">AhWRKY41:</text><text x="192" y="833.4" text-anchor="end">6.41e-61</text>
<text x="66" y="854.7" text-anchor="end">10.</text><text x="73" y="854.7">AhWRKY44:</text><text x="192" y="854.7" text-anchor="end">7.98e-88</text>
</g>

<g id="motif-boxes">
<rect class="m1" x="214" y="649.5" width="64" height="10.5"/><rect class="m4" x="278" y="649.5" width="76" height="10.5"/><rect class="m6" x="516" y="649.5" width="40" height="10.5"/><rect class="m3" x="577" y="649.5" width="90" height="10.5"/><rect class="mc" x="667" y="649.5" width="47" height="10.5"/><rect class="mo" x="717" y="651" width="16" height="9"/>
<rect class="m1" x="214" y="670.8" width="64" height="10.5"/><rect class="m4" x="278" y="670.8" width="76" height="10.5"/><rect class="m3" x="582" y="670.8" width="92" height="10.5"/><rect class="mc" x="674" y="670.8" width="47" height="10.5"/><rect class="mo" x="723" y="672.3" width="17" height="9"/>
<rect class="m1" x="214" y="692.1" width="64" height="10.5"/><rect class="m4" x="278" y="692.1" width="76" height="10.5"/><rect class="m3" x="670" y="692.1" width="90" height="10.5"/><rect class="mc" x="760" y="692.1" width="47" height="10.5"/><rect class="mo" x="809" y="693.6" width="18" height="9"/>
<rect class="m1" x="579" y="713.4" width="64" height="10.5"/><rect class="mc" x="645" y="713.4" width="46" height="10.5"/><rect class="mo" x="694" y="714.9" width="18" height="9"/>
<rect class="m1" x="214" y="734.7" width="64" height="10.5"/><rect class="mc" x="279" y="734.7" width="46" height="10.5"/><rect class="mo" x="328" y="736.2" width="17" height="9"/>
<rect class="m1" x="214" y="756.0" width="65" height="10.5"/><rect class="mc" x="281" y="756.0" width="47" height="10.5"/><rect class="mo" x="330" y="757.5" width="17" height="9"/>
<rect class="m6" x="541" y="777.3" width="40" height="10.5"/><rect class="m1" x="592" y="777.3" width="64" height="10.5"/><rect class="mc" x="658" y="777.3" width="47" height="10.5"/><rect class="mo" x="708" y="778.8" width="16" height="9"/>
<rect class="m6" x="252" y="798.6" width="40" height="10.5"/><rect class="m1" x="328" y="798.6" width="64" height="10.5"/><rect class="mc" x="394" y="798.6" width="46" height="10.5"/><rect class="mo" x="443" y="800.1" width="18" height="9"/>
<rect class="m6" x="434" y="819.9" width="40" height="10.5"/><rect class="m1" x="498" y="819.9" width="65" height="10.5"/><rect class="mc" x="569" y="819.9" width="47" height="10.5"/>
<rect class="m1" x="476" y="841.2" width="65" height="10.5"/><rect class="mc" x="541" y="841.2" width="46" height="10.5"/><rect class="mo" x="588" y="842.7" width="17" height="9"/>
</g>

<g id="legend">
<rect x="57" y="925" width="12" height="15" fill="#c0504d"/><text class="lg" x="80" y="943">Motif 1</text>
<rect x="160" y="925" width="12" height="15" fill="#c4bd97"/><text class="lg" x="182" y="943">Motif2</text>
<rect x="273" y="925" width="12" height="15" fill="#9bbb59"/><text class="lg" x="295" y="943">Motif3</text>
<rect x="385" y="925" width="12" height="15" fill="#7030a0"/><text class="lg" x="408" y="943">Motif 4</text>
<rect x="501" y="925" width="12" height="15" fill="#ffff00"/><text class="lg" x="524" y="943">Motif5</text>
<rect x="611" y="925" width="12" height="15" fill="#19c21f"/><text class="lg" x="634" y="943">Motif6</text>
</g>
</g>
</svg>
